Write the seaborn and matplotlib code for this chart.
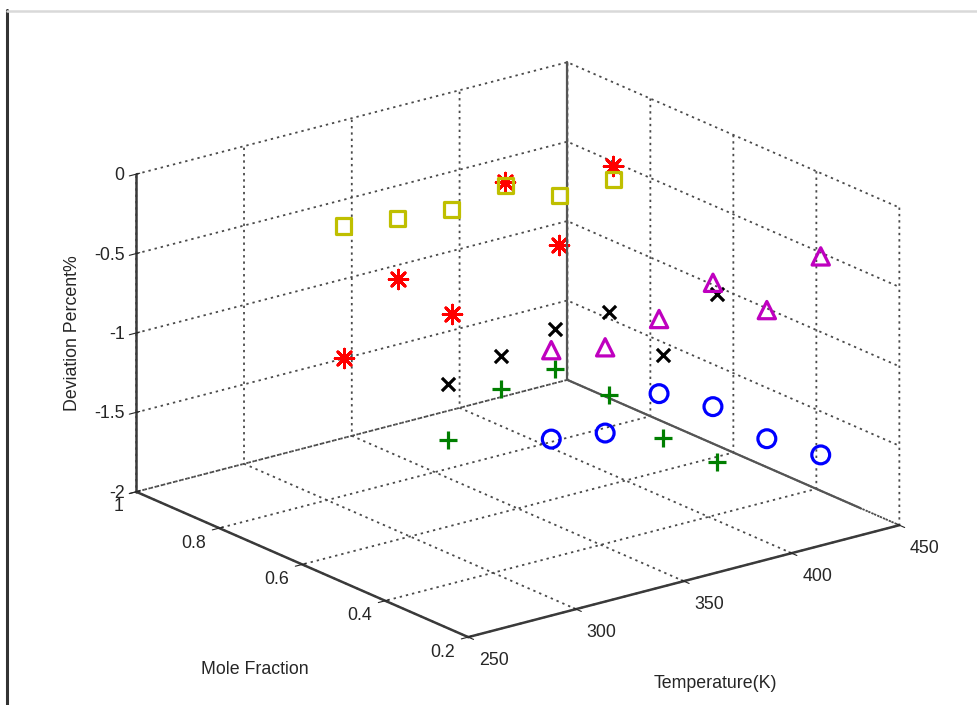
import matplotlib
matplotlib.use("Agg")
import matplotlib.pyplot as plt
from matplotlib.lines import Line2D
import numpy as np
import pandas as pd
import seaborn as sns

# ---- data -------------------------------------------------------------
temperature = [298.15, 323.15, 348.15, 373.15, 398.15, 423.15]   # K
mole_fraction = [0.75, 0.50, 0.25]

dev_star_075 = [-1.04, -0.63, -0.94, -0.20, -0.68, -0.27]
dev_square_075 = [-0.21, -0.25, -0.28, -0.22, -0.37, -0.36]
dev_cross_050 = [-0.92, -0.83, -0.75, -0.73, -1.09, -0.79]
dev_plus_050 = [-1.27, -1.04, -1.00, -1.25, -1.61, -1.85]
dev_tri_025 = [-0.42, -0.49, -0.40, -0.26, -0.52, -0.27]
dev_circle_025 = [-0.98, -1.03, -0.87, -1.04, -1.33, -1.52]

x_ticks = [250, 300, 350, 400, 450]
y_ticks = [0.2, 0.4, 0.6, 0.8, 1.0]
y_tick_labels = ["0.2", "0.4", "0.6", "0.8", "1"]
z_ticks = [-2, -1.5, -1, -0.5, 0]
z_tick_labels = ["-2", "-1.5", "-1", "-0.5", "0"]

series = [
    ("star", mole_fraction[0], dev_star_075),
    ("square", mole_fraction[0], dev_square_075),
    ("cross", mole_fraction[1], dev_cross_050),
    ("plus", mole_fraction[1], dev_plus_050),
    ("tri", mole_fraction[2], dev_tri_025),
    ("circle", mole_fraction[2], dev_circle_025),
]
df = pd.concat(
    [pd.DataFrame({"series": name, "T": temperature, "x": xf, "dev": vals})
     for name, xf, vals in series],
    ignore_index=True,
)

styles = {
    "star":   dict(marker=(8, 2, 0), color="#ff0000", s=180, lw=2.1),
    "square": dict(marker="s", color="#bfbf00", s=120, lw=2.3),
    "cross":  dict(marker="x", color="#000000", s=90, lw=2.3),
    "plus":   dict(marker="+", color="#007f00", s=180, lw=2.3),
    "tri":    dict(marker="^", color="#bf00bf", s=155, lw=2.3),
    "circle": dict(marker="o", color="#0000ff", s=165, lw=2.3),
}

# ---- style ------------------------------------------------------------
sns.set_style("white")
plt.rcParams["font.family"] = ["Liberation Sans", "DejaVu Sans"]
plt.rcParams["grid.color"] = "#4a4a4a"
plt.rcParams["grid.linestyle"] = (0, (1.3, 2.2))
plt.rcParams["grid.linewidth"] = 1.3

TXT = "#262626"
FS = 12.8

fig = plt.figure(figsize=(9.78, 7.05), dpi=100)
ax = fig.add_axes([0.0197, -0.0095, 1.0, 1.0], projection="3d", proj_type="ortho")
ax.view_init(elev=19.7, azim=-127.6)
ax.set_box_aspect((1, 1, 0.62), zoom=1.157)

for name, grp in df.groupby("series", sort=False):
    st = styles[name]
    if name in ("star", "cross", "plus"):
        ax.scatter(grp["T"], grp["x"], grp["dev"], marker=st["marker"],
                   c=st["color"], s=st["s"], linewidths=st["lw"],
                   depthshade=False)
    else:
        ax.scatter(grp["T"], grp["x"], grp["dev"], marker=st["marker"],
                   facecolors="none", edgecolors=st["color"], s=st["s"],
                   linewidths=st["lw"], depthshade=False)

xlim, ylim, zlim = (250, 450), (0.2, 1.0), (-2, 0)

# solid back edges of the box
ax.plot([xlim[1], xlim[1]], [ylim[1], ylim[1]], zlim, color="#555555", lw=1.6)
ax.plot([xlim[1], xlim[1]], ylim, [zlim[0], zlim[0]], color="#555555", lw=1.6)

ax.set_xlim(*xlim)
ax.set_ylim(*ylim)
ax.set_zlim(*zlim)
ax.set_xticks(x_ticks)
ax.set_yticks(y_ticks)
ax.set_yticklabels(y_tick_labels)
ax.set_zticks(z_ticks)
ax.set_zticklabels(z_tick_labels)

for axis in (ax.xaxis, ax.yaxis, ax.zaxis):
    axis.set_pane_color((1, 1, 1, 0))
    axis.pane.set_edgecolor((1, 1, 1, 0))
    axis.line.set_color("#3a3a3a")
    axis.line.set_linewidth(1.8)
ax.tick_params(labelsize=FS, colors=TXT)
ax.tick_params(axis="x", pad=0.5)
ax.tick_params(axis="y", pad=0)
ax.tick_params(axis="z", pad=-4)
for lab in ax.get_xticklabels():
    lab.set_ha("left")
for lab in ax.get_yticklabels():
    lab.set_ha("right")
    lab.set_va("center_baseline")
for lab in ax.get_zticklabels():
    lab.set_ha("right")
    lab.set_va("center_baseline")

fig.text(0.074, 0.528, "Deviation Percent%", rotation=90, ha="center",
         va="center", fontsize=FS, color=TXT)
fig.text(0.261, 0.050, "Mole Fraction", ha="center", va="center",
         fontsize=FS, color=TXT)
fig.text(0.731, 0.031, "Temperature(K)", ha="center", va="center",
         fontsize=FS, color=TXT)

# window frame
fig.add_artist(Line2D([7.5 / 978, 7.5 / 978], [0, 1 - 10 / 705],
                      transform=fig.transFigure, color="#333333", lw=2.2))
fig.add_artist(Line2D([7.5 / 978, 1], [1 - 10.5 / 705, 1 - 10.5 / 705],
                      transform=fig.transFigure, color="#d9d9d9", lw=1.8))

fig.savefig("out.png", dpi=100)
